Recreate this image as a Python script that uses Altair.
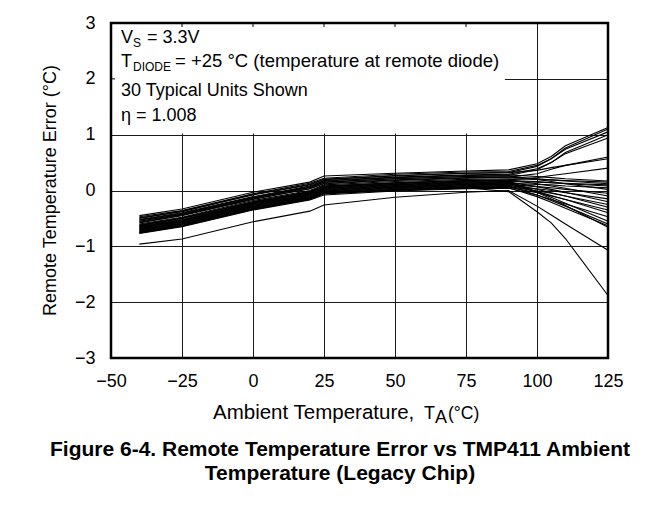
import altair as alt
import pandas as pd

# ---- data ----
temps_c = [-40, -25, 0, 20, 25, 50, 75, 90, 100, 105, 110, 125]

unit_errors = [
    [-0.45, -0.33, -0.03, 0.15, 0.26, 0.31, 0.35, 0.37, 0.48, 0.61, 0.80, 1.13],
    [-0.50, -0.37, -0.08, 0.10, 0.20, 0.27, 0.31, 0.32, 0.43, 0.57, 0.76, 1.10],
    [-0.47, -0.36, -0.06, 0.13, 0.22, 0.29, 0.33, 0.34, 0.45, 0.57, 0.74, 1.05],
    [-0.55, -0.42, -0.13, 0.06, 0.15, 0.21, 0.25, 0.27, 0.37, 0.50, 0.68, 1.00],
    [-0.52, -0.40, -0.11, 0.08, 0.18, 0.24, 0.28, 0.29, 0.39, 0.50, 0.66, 0.94],
    [-0.58, -0.45, -0.16, 0.03, 0.12, 0.18, 0.22, 0.24, 0.30, 0.38, 0.45, 0.60],
    [-0.49, -0.38, -0.07, 0.11, 0.20, 0.26, 0.31, 0.32, 0.36, 0.41, 0.45, 0.57],
    [-0.62, -0.49, -0.20, -0.02, 0.08, 0.14, 0.18, 0.19, 0.23, 0.27, 0.30, 0.40],
    [-0.53, -0.41, -0.12, 0.07, 0.17, 0.23, 0.27, 0.28, 0.25, 0.23, 0.21, 0.17],
    [-0.60, -0.48, -0.18, 0.00, 0.10, 0.16, 0.20, 0.21, 0.20, 0.19, 0.18, 0.15],
    [-0.57, -0.44, -0.15, 0.03, 0.13, 0.19, 0.23, 0.24, 0.21, 0.19, 0.17, 0.12],
    [-0.65, -0.53, -0.23, -0.05, 0.05, 0.11, 0.15, 0.16, 0.15, 0.14, 0.13, 0.10],
    [-0.63, -0.50, -0.21, -0.03, 0.07, 0.13, 0.17, 0.18, 0.16, 0.14, 0.12, 0.08],
    [-0.68, -0.56, -0.26, -0.08, 0.02, 0.08, 0.12, 0.13, 0.11, 0.10, 0.08, 0.05],
    [-0.55, -0.43, -0.14, 0.05, 0.15, 0.21, 0.25, 0.26, 0.20, 0.16, 0.12, 0.02],
    [-0.70, -0.58, -0.28, -0.10, 0.00, 0.06, 0.10, 0.11, 0.07, 0.05, 0.02, -0.05],
    [-0.62, -0.50, -0.20, -0.02, 0.08, 0.14, 0.18, 0.19, 0.12, 0.08, 0.04, -0.10],
    [-0.72, -0.60, -0.30, -0.12, -0.02, 0.04, 0.08, 0.09, 0.03, 0.00, -0.04, -0.15],
    [-0.66, -0.54, -0.24, -0.06, 0.04, 0.10, 0.14, 0.15, 0.07, 0.02, -0.03, -0.20],
    [-0.74, -0.62, -0.32, -0.14, -0.04, 0.02, 0.06, 0.07, -0.01, -0.05, -0.10, -0.25],
    [-0.69, -0.57, -0.27, -0.09, 0.01, 0.07, 0.11, 0.12, 0.02, -0.04, -0.10, -0.30],
    [-0.75, -0.63, -0.33, -0.15, -0.05, 0.01, 0.05, 0.06, -0.04, -0.10, -0.16, -0.35],
    [-0.71, -0.59, -0.29, -0.11, -0.01, 0.05, 0.09, 0.10, -0.02, -0.09, -0.16, -0.40],
    [-0.77, -0.65, -0.35, -0.17, -0.08, -0.01, 0.03, 0.04, -0.08, -0.16, -0.24, -0.47],
    [-0.67, -0.55, -0.25, -0.07, 0.03, 0.09, 0.13, 0.14, -0.02, -0.12, -0.23, -0.55],
    [-0.73, -0.61, -0.31, -0.13, -0.03, 0.03, 0.07, 0.08, -0.08, -0.18, -0.28, -0.60],
    [-0.76, -0.64, -0.34, -0.16, -0.06, 0.00, 0.04, 0.05, -0.11, -0.21, -0.32, -0.63],
    [-0.64, -0.52, -0.22, -0.04, 0.06, 0.12, 0.16, 0.17, -0.03, -0.15, -0.27, -0.66],
    [-0.96, -0.87, -0.56, -0.37, -0.26, -0.12, -0.03, 0.00, -0.28, -0.44, -0.60, -1.07],
    [-0.75, -0.63, -0.33, -0.15, -0.05, 0.01, 0.05, -0.02, -0.38, -0.58, -0.86, -1.88],
]

x_ticks = [-50, -25, 0, 25, 50, 75, 100, 125]
y_ticks = [-3, -2, -1, 0, 1, 2, 3]
note_box_x = [-50, 88.7]
note_box_y = [1.02, 3]

rows = []
for i, ys in enumerate(unit_errors):
    for t, e in zip(temps_c, ys):
        rows.append({"unit": i + 1, "temp": t, "err": e})
df = pd.DataFrame(rows)

W, H = 497, 335
FONT = "Liberation Sans"

x_scale = alt.Scale(domain=[-50, 125], nice=False, zero=False)
y_scale = alt.Scale(domain=[-3, 3], nice=False, zero=False)

x_axis = alt.Axis(values=x_ticks, title=None, grid=True, ticks=False, tickSize=0,
                  domain=False, labelPadding=14, labelFontSize=18, labelFont=FONT,
                  labelColor="black", gridColor="#1a1a1a", gridWidth=1, gridOpacity=1,
                  labelFlush=False)
y_axis = alt.Axis(values=y_ticks, title=None, grid=True, ticks=False, tickSize=0,
                  domain=False, labelPadding=16, labelFontSize=18, labelFont=FONT,
                  labelColor="black", gridColor="#1a1a1a", gridWidth=1, gridOpacity=1,
                  labelFlush=False)

one = pd.DataFrame({"k": [0]})

lines = alt.Chart(df).mark_line(color="black", strokeWidth=1.1).encode(
    x=alt.X("temp:Q", scale=x_scale, axis=x_axis),
    y=alt.Y("err:Q", scale=y_scale, axis=y_axis),
    detail="unit:N",
    order="temp:Q",
)

box = alt.Chart(pd.DataFrame({"temp": [note_box_x[0]], "x1": [note_box_x[1]],
                              "err": [note_box_y[0]], "y1": [note_box_y[1]]})).mark_rect(
    fill="white").encode(
    x=alt.X("temp:Q", scale=x_scale, axis=x_axis), x2="x1",
    y=alt.Y("err:Q", scale=y_scale, axis=y_axis), y2="y1")

frame = alt.Chart(one).mark_rect(fillOpacity=0, stroke="black", strokeWidth=2.5).encode(
    x=alt.value(0), x2=alt.value(W), y=alt.value(0), y2=alt.value(H))

top_ticks = alt.Chart(pd.DataFrame({"temp": x_ticks[1:-2]})).mark_rule(
    color="black", strokeWidth=1).encode(
    x=alt.X("temp:Q", scale=x_scale, axis=x_axis), y=alt.value(0), y2=alt.value(4))

left_tick = alt.Chart(pd.DataFrame({"err": [2]})).mark_rule(
    color="black", strokeWidth=1).encode(
    y=alt.Y("err:Q", scale=y_scale, axis=y_axis), x=alt.value(0), x2=alt.value(4))


def label(s, x, y, size=18, align="left", weight="normal", baseline="alphabetic", angle=0):
    return alt.Chart(one).mark_text(
        text=s, align=align, baseline=baseline, font=FONT, fontSize=size,
        fontWeight=weight, color="black", angle=angle).encode(
        x=alt.value(x), y=alt.value(y))


texts = [
    label("V", 10, 20),
    label("S", 22, 24, size=12),
    label("= 3.3V", 36, 20),
    label("T", 10, 44),
    label("DIODE", 22, 48, size=12),
    label("= +25 °C (temperature at remote diode)", 64, 44, size=18.5),
    label("30 Typical Units Shown", 10, 73),
    label("η = 1.008", 10, 98),
    label("Ambient Temperature,", 102, 396, size=20.5),
    label("T", 313, 396),
    label("A", 324, 400),
    label("(°C)", 337, 396, size=17.5),
    label("Remote Temperature Error (°C)", -60, 167.5, align="center",
          baseline="middle", angle=270),
    label("Figure 6-4. Remote Temperature Error vs TMP411 Ambient", 229, 433,
          size=21, align="center", weight="bold"),
    label("Temperature (Legacy Chip)", 229, 457, size=21, align="center", weight="bold"),
]

chart = alt.layer(lines, box, frame, top_ticks, left_tick, *texts).properties(
    width=W, height=H,
    autosize=alt.AutoSizeParams(type="none"),
    padding={"left": 103, "top": 15, "right": 47, "bottom": 146},
    background="white",
).configure_view(stroke=None)

chart.save("out.html", embed_options={"renderer": "svg", "actions": False})
